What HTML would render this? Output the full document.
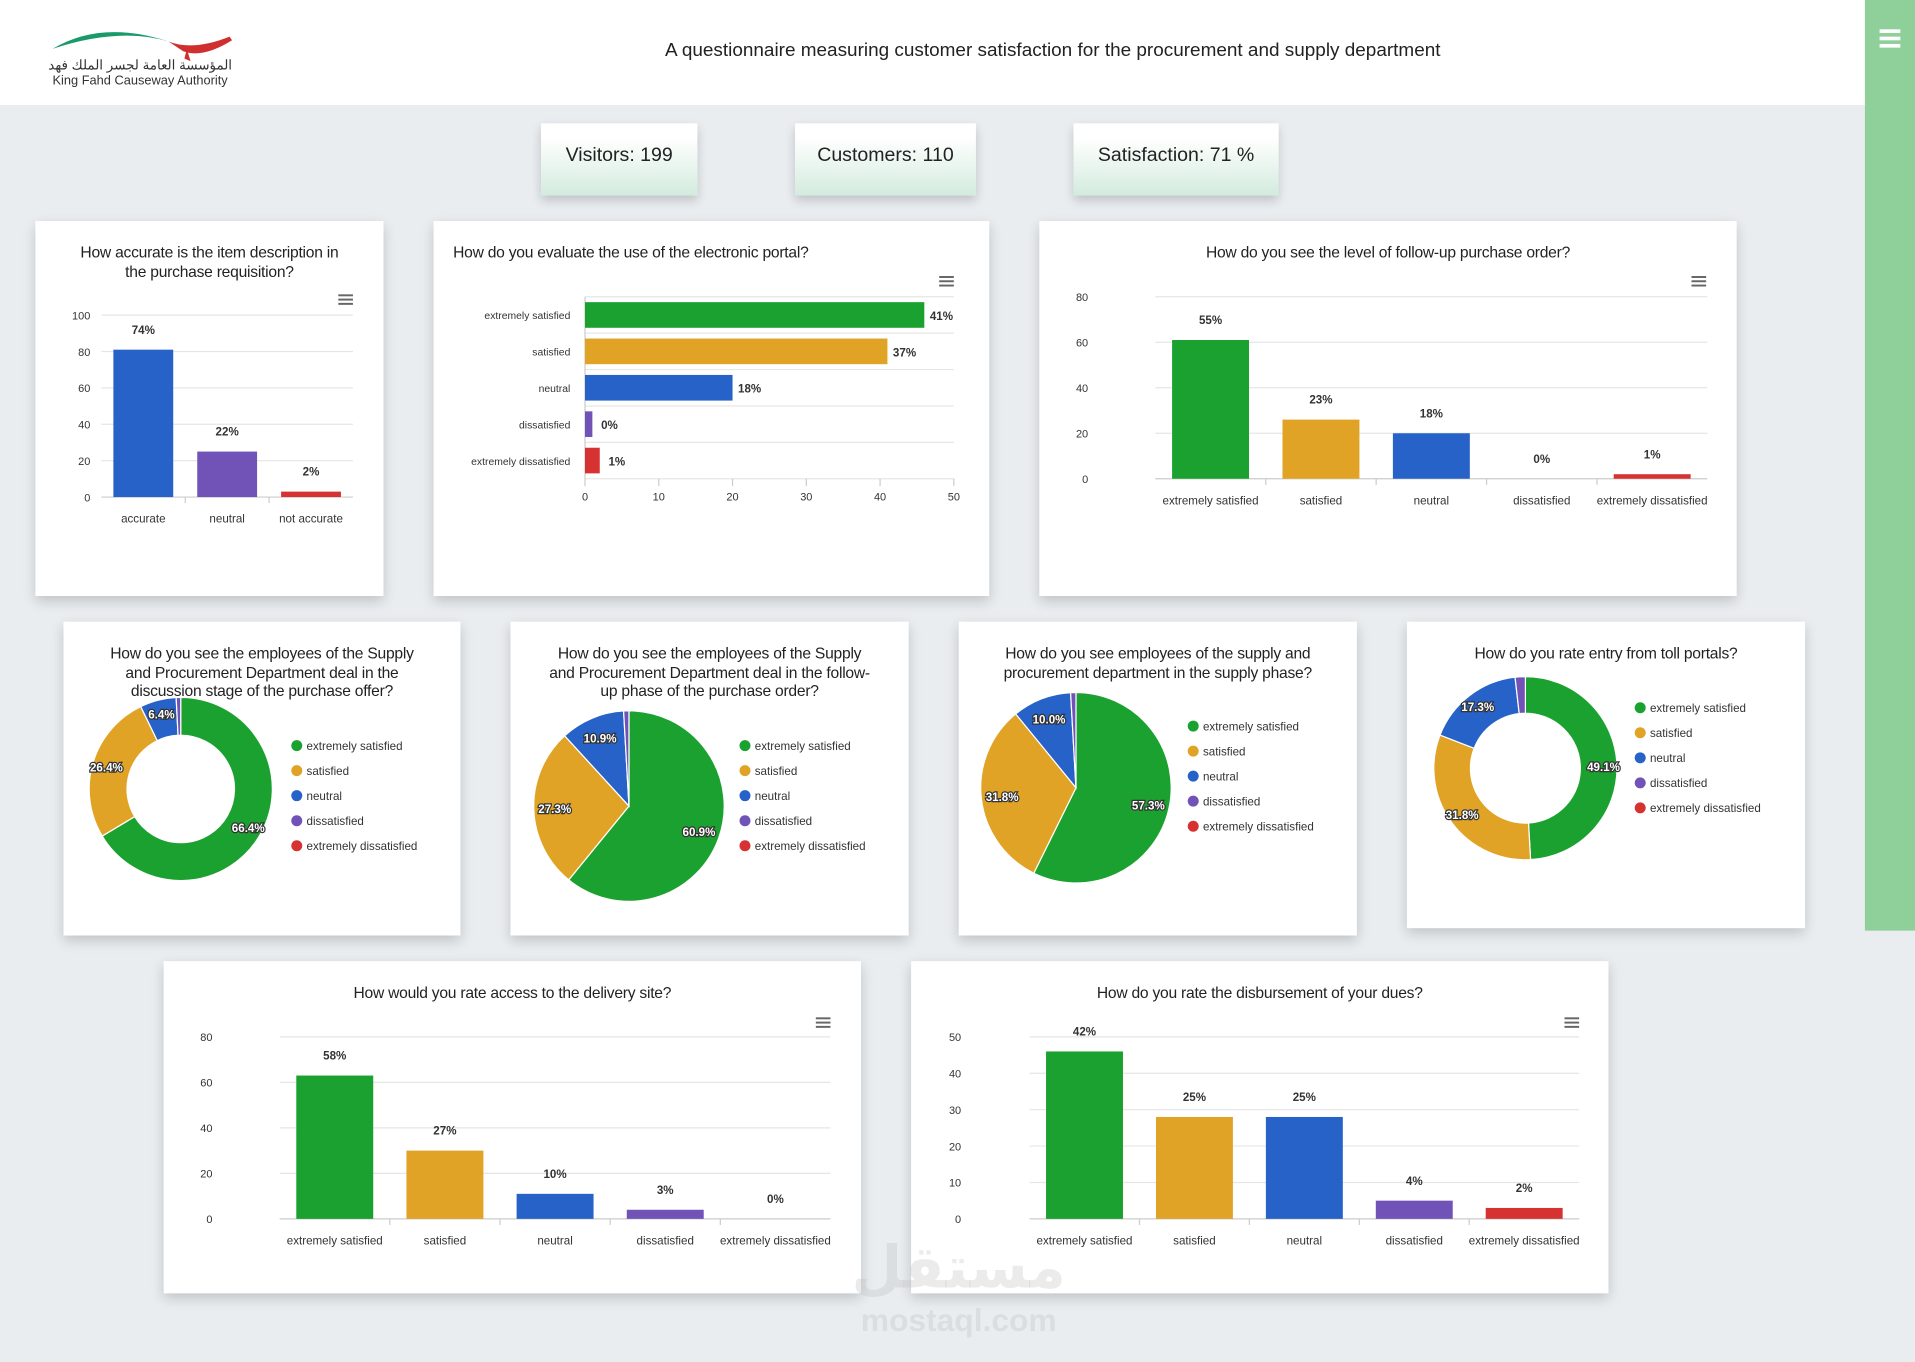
<!DOCTYPE html>
<html><head><meta charset="utf-8">
<style>
html,body{margin:0;padding:0;width:1915px;height:1361px;overflow:hidden;background:#e9edf0;font-family:"Liberation Sans",sans-serif;}
#root{position:absolute;left:0;top:0;width:1568px;height:1115px;transform:scale(1.22130);transform-origin:0 0;background:#e9edf0;}
.hdr{position:absolute;left:0;top:0;width:1527px;height:86px;background:#fff;}
.side{position:absolute;left:1527px;top:0;width:41px;height:762px;background:#8ecf9a;}
.ham{position:absolute;left:12px;top:24px;width:17px;}
.ham i{display:block;height:3px;background:#fff;margin-bottom:3px;}
.title{position:absolute;left:400px;width:924px;top:33px;text-align:center;font-size:15.5px;color:#222;}
.stat{position:absolute;top:101px;height:59px;background:linear-gradient(#fff 20%,#d3ebde);box-shadow:0 4px 8px rgba(0,0,0,.18);font-size:16px;color:#222;text-align:center;line-height:54px;}
.card{position:absolute;background:#fff;box-shadow:0 4px 10px rgba(0,0,0,.18);}
.ct{position:absolute;left:0;right:0;top:18px;text-align:center;font-size:12.8px;line-height:15.6px;color:#222;white-space:nowrap;letter-spacing:-0.2px;}
svg{position:absolute;left:0;top:0;}
text{font-family:"Liberation Sans",sans-serif;}
</style></head><body>
<div id="root">
<div class="hdr">
  <svg width="200" height="80" style="left:38px;top:18px">
    <path d="M5 22 Q45 -2 100 16 Q60 4 5 22Z" fill="#1a9a6a"/>
    <path d="M100 16 Q120 24 150 12 L152 15 Q128 30 112 24Z" fill="#d02f2f"/>
    <path d="M115 22 L118 32 L113 30Z" fill="#d02f2f"/>
    <text x="152" y="39" font-size="11" text-anchor="end" fill="#333" font-family="DejaVu Sans,sans-serif">المؤسسة العامة لجسر الملك فهد</text>
    <text x="5" y="51" font-size="10.5" fill="#333">King Fahd Causeway Authority</text>
  </svg>
  <div class="title">A questionnaire measuring customer satisfaction for the procurement and supply department</div>
</div>
<div class="side"><div class="ham"><i></i><i></i><i></i></div></div>

<div class="stat" style="left:443px;width:128px">Visitors: 199</div>
<div class="stat" style="left:651px;width:148px">Customers: 110</div>
<div class="stat" style="left:879px;width:168px">Satisfaction: 71 %</div>

<div class="card" style="left:29px;top:181px;width:285px;height:307px"><div class="ct">How accurate is the item description in<br>the purchase requisition?</div></div>
<div class="card" style="left:355px;top:181px;width:455px;height:307px"><div class="ct" style="text-align:left;padding-left:16px">How do you evaluate the use of the electronic portal?</div></div>
<div class="card" style="left:851px;top:181px;width:571px;height:307px"><div class="ct">How do you see the level of follow-up purchase order?</div></div>

<div class="card" style="left:52px;top:509px;width:325px;height:257px"><div class="ct">How do you see the employees of the Supply<br>and Procurement Department deal in the<br>discussion stage of the purchase offer?</div></div>
<div class="card" style="left:418px;top:509px;width:326px;height:257px"><div class="ct">How do you see the employees of the Supply<br>and Procurement Department deal in the follow-<br>up phase of the purchase order?</div></div>
<div class="card" style="left:785px;top:509px;width:326px;height:257px"><div class="ct">How do you see employees of the supply and<br>procurement department in the supply phase?</div></div>
<div class="card" style="left:1152px;top:509px;width:326px;height:251px"><div class="ct">How do you rate entry from toll portals?</div></div>

<div class="card" style="left:134px;top:787px;width:571px;height:272px"><div class="ct">How would you rate access to the delivery site?</div></div>
<div class="card" style="left:746px;top:787px;width:571px;height:272px"><div class="ct">How do you rate the disbursement of your dues?</div></div>

<div style="position:absolute;left:690px;top:1010px;width:190px;text-align:center;color:rgba(190,190,190,.3);font-weight:bold"><div style="font-size:48px;font-family:'DejaVu Sans',sans-serif">مستقل</div><div style="font-size:26px">mostaql.com</div></div>

<svg id="ov" width="1568" height="1115"></svg>
</div>
<script>
// ---- data ----
const c1Cats=["accurate","neutral","not accurate"];
const c1Vals=[81,25,3];
const c1Labels=["74%","22%","2%"];
const c1Ticks=[0,20,40,60,80,100];

const c2Cats=["extremely satisfied","satisfied","neutral","dissatisfied","extremely dissatisfied"];
const c2Vals=[46,41,20,1,2];
const c2Labels=["41%","37%","18%","0%","1%"];
const c2Ticks=[0,10,20,30,40,50];

const c3Cats=["extremely satisfied","satisfied","neutral","dissatisfied","extremely dissatisfied"];
const c3Vals=[61,26,20,0,2];
const c3Labels=["55%","23%","18%","0%","1%"];
const c3Ticks=[0,20,40,60,80];

const c4Vals=[63,30,11,4,0];
const c4Labels=["58%","27%","10%","3%","0%"];
const c4Ticks=[0,20,40,60,80];

const c5Vals=[46,28,28,5,3];
const c5Labels=["42%","25%","25%","4%","2%"];
const c5Ticks=[0,10,20,30,40,50];

const pieCats=["extremely satisfied","satisfied","neutral","dissatisfied","extremely dissatisfied"];
const p1Vals=[66.4,26.4,6.4,0.8,0];
const p2Vals=[60.9,27.3,10.9,0.9,0];
const p3Vals=[57.3,31.8,10.0,0.9,0];
const p4Vals=[49.1,31.8,17.3,1.8,0];

const COLORS=["#1ba12f","#e0a325","#2662c8","#7153b8","#d63232"];
const ov=document.getElementById('ov');
const NS="http://www.w3.org/2000/svg";
function el(tag,attrs,parent,txt){const e=document.createElementNS(NS,tag);for(const k in attrs)e.setAttribute(k,attrs[k]);if(txt!==undefined)e.textContent=txt;(parent||ov).appendChild(e);return e;}

function menu(x,y){const g=el('g',{});


for(let i=0;i<3;i++)el('rect',{x:x-6,y:y-4+i*3.5,width:12,height:1.6,fill:'#666'},g);}

function vbar(o){
  const {x0,x1,y0,y1,cats,vals,labels,ticks,colors,bw}=o;
  const max=ticks[ticks.length-1];
  const ys=v=>y1-(v/max)*(y1-y0);
  const n=cats.length, band=(x1-x0)/n;
  const g=el('g',{});
  
  
  ticks.forEach(t=>{
    const l=el('line',{x1:x0,x2:x1,y1:ys(t),y2:ys(t),stroke:t===0?'#ccc':'#e6e6e6','stroke-width':1},g);
    
    
    const tx=el('text',{x:o.tickX,y:ys(t)+3.5,'font-size':9,'text-anchor':'end',fill:'#333'},g,String(t));
    
    
  });
  for(let i=1;i<n;i++)el('line',{x1:x0+band*i,x2:x0+band*i,y1:y1,y2:y1+5,stroke:'#ccc'},g);
  cats.forEach((c,i)=>{
    const cx=x0+band*(i+0.5), v=vals[i];
    const r=el('rect',{x:cx-bw/2,y:ys(v),width:bw,height:Math.max(0,y1-ys(v)),fill:colors[i]},g);
    
    
    const lb=el('text',{x:cx,y:ys(v)-13,'font-size':9.5,'font-weight':'bold','text-anchor':'middle',fill:'#333'},g,labels[i]);
    
    
    const cl=el('text',{x:cx,y:y1+21,'font-size':9.5,'text-anchor':'middle',fill:'#333'},g,c);
    
    
  });
}

function hbar(o){
  const {x0,x1,y0,y1,cats,vals,labels,ticks,colors}=o;
  const max=ticks[ticks.length-1];
  const xs=v=>x0+(v/max)*(x1-x0);
  const n=cats.length, band=(y1-y0)/n;
  const g=el('g',{});
  
  
  for(let i=0;i<=n;i++)el('line',{x1:x0,x2:x1,y1:y0+band*i,y2:y0+band*i,stroke:'#e6e6e6'},g);
  el('line',{x1:x0,x2:x0,y1:y0,y2:y1,stroke:'#ccc'},g);
  ticks.forEach(t=>{
    el('line',{x1:xs(t),x2:xs(t),y1:y1,y2:y1+6,stroke:'#ccc'},g);
    const tx=el('text',{x:xs(t),y:y1+18,'font-size':9,'text-anchor':'middle',fill:'#333'},g,String(t));
    
    
  });
  cats.forEach((c,i)=>{
    const cy=y0+band*(i+0.5), v=vals[i];
    const r=el('rect',{x:x0,y:cy-10.5,width:xs(v)-x0,height:21,fill:colors[i]},g);
    
    
    const lb=el('text',{x:xs(v)+14,y:cy+4,'font-size':9.5,'font-weight':'bold','text-anchor':'middle',fill:'#333'},g,labels[i]);
    
    
    const cl=el('text',{x:x0-12,y:cy+3.5,'font-size':8.5,'text-anchor':'end',fill:'#333'},g,c);
    
    
  });
}

function pie(o){
  const {cx,cy,r,ri,vals,lx,ly,name}=o;
  const g=el('g',{});
  
  
  const tot=vals.reduce((a,b)=>a+b,0);
  let a=-Math.PI/2;
  const P=(rad,ang)=>[cx+rad*Math.cos(ang),cy+rad*Math.sin(ang)];
  vals.forEach((v,i)=>{
    if(v<=0)return;
    const da=v/tot*2*Math.PI, b=a+da, big=da>Math.PI?1:0;
    const [x1,y1]=P(r,a),[x2,y2]=P(r,b);
    let d;
    if(ri){const [x3,y3]=P(ri,b),[x4,y4]=P(ri,a);
      d=`M${x1},${y1}A${r},${r} 0 ${big} 1 ${x2},${y2}L${x3},${y3}A${ri},${ri} 0 ${big} 0 ${x4},${y4}Z`;}
    else d=`M${cx},${cy}L${x1},${y1}A${r},${r} 0 ${big} 1 ${x2},${y2}Z`;
    const s=el('path',{d,fill:COLORS[i],stroke:'#fff','stroke-width':1},g);
    
    
    if(v>=5){const m=(a+b)/2, lr=ri?(r+ri)/2+4:r*0.78;const [tx,ty]=P(lr,m);
      const t=el('text',{x:tx,y:ty+4,'font-size':9.5,'font-weight':'bold','text-anchor':'middle',fill:'#fff',stroke:'#333','stroke-width':2,'paint-order':'stroke'},g,v.toFixed(1)+'%');
      
      }
    a=b;
  });
  pieCats.forEach((c,i)=>{
    const lg=el('g',{},g);
    
    
    el('circle',{cx:lx,cy:ly+i*20.5-3.5,r:4.5,fill:COLORS[i]},lg);
    el('text',{x:lx+8,y:ly+i*20.5,'font-size':9.5,fill:'#333'},lg,c);
  });
}

vbar({name:'item-description-chart',x0:83,x1:289,y0:258,y1:407,cats:c1Cats,vals:c1Vals,labels:c1Labels,ticks:c1Ticks,colors:["#2662c8","#7153b8","#d63232"],bw:49,tickX:74});
menu(283,245);
hbar({x0:479,x1:781,y0:243,y1:392,cats:c2Cats,vals:c2Vals,labels:c2Labels,ticks:c2Ticks,colors:COLORS});
menu(775,230);
vbar({name:'follow-up-level-chart',x0:946,x1:1398,y0:243,y1:392,cats:c3Cats,vals:c3Vals,labels:c3Labels,ticks:c3Ticks,colors:COLORS,bw:63,tickX:891});
menu(1391,230);
vbar({name:'delivery-site-chart',x0:229,x1:680,y0:849,y1:998,cats:c3Cats,vals:c4Vals,labels:c4Labels,ticks:c4Ticks,colors:COLORS,bw:63,tickX:174});
menu(674,837);
vbar({name:'disbursement-chart',x0:843,x1:1293,y0:849,y1:998,cats:c3Cats,vals:c5Vals,labels:c5Labels,ticks:c5Ticks,colors:COLORS,bw:63,tickX:787});
menu(1287,837);

pie({name:'discussion-stage-donut',cx:148,cy:646,r:75,ri:44,vals:p1Vals,lx:243,ly:614});
pie({name:'follow-up-phase-pie',cx:515,cy:660,r:78,vals:p2Vals,lx:610,ly:614});
pie({name:'supply-phase-pie',cx:881,cy:645,r:78,vals:p3Vals,lx:977,ly:598});
pie({name:'toll-portals-donut',cx:1249,cy:629,r:75,ri:45,vals:p4Vals,lx:1343,ly:583});
</script>
</body></html>
